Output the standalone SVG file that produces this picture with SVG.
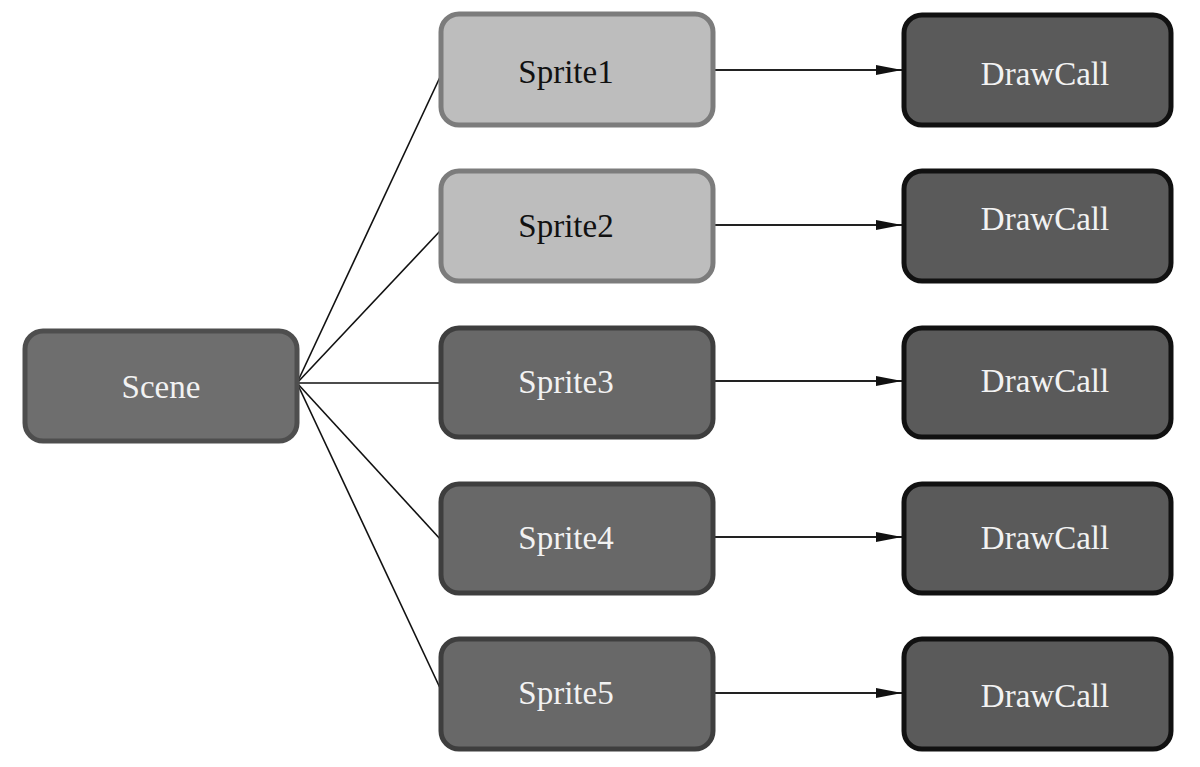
<svg xmlns="http://www.w3.org/2000/svg" width="1200" height="767" viewBox="0 0 1200 767">
<style>
.n rect{stroke-width:5}
.scene rect{fill:#6e6e6e;stroke:#4e4e4e}
.light rect{fill:#bdbdbd;stroke:#7c7c7c}
.dark rect{fill:#686868;stroke:#3e3e3e}
.dc rect{fill:#5a5a5a;stroke:#111}
text{font-family:"Liberation Serif","Times New Roman",serif;font-size:33px;text-anchor:middle}
.light text{fill:#111}
.scene text,.dark text,.dc text{fill:#f2f2f2}
.e line{stroke:#111;stroke-width:1.6}
.a line{stroke:#222;stroke-width:1.8;marker-end:url(#ah)}
</style>
<defs>
<marker id="ah" markerWidth="26" markerHeight="10" refX="26" refY="5" orient="auto" markerUnits="userSpaceOnUse">
<path d="M0,0 L26,5 L0,10 Z" fill="#111"/>
</marker>
</defs>
<rect width="1200" height="767" fill="#fff"/>
<g id="connectors">
<g class="e">
<line x1="297" y1="383" x2="441" y2="75"/>
<line x1="297" y1="383" x2="441" y2="230"/>
<line x1="297" y1="383" x2="441" y2="383"/>
<line x1="297" y1="383" x2="441" y2="540"/>
<line x1="297" y1="383" x2="441" y2="690"/>
</g>
<g class="a">
<line x1="714" y1="70" x2="902" y2="70"/>
<line x1="714" y1="225" x2="902" y2="225"/>
<line x1="714" y1="381" x2="902" y2="381"/>
<line x1="714" y1="537" x2="902" y2="537"/>
<line x1="714" y1="693" x2="902" y2="693"/>
</g>
</g>
<g id="scene" class="n scene"><rect x="25" y="331" width="272" height="110" rx="18"/><text x="161" y="398">Scene</text></g>
<g id="sprite1" class="n light"><rect x="441" y="14" width="272" height="111" rx="18"/><text x="566" y="83">Sprite1</text></g>
<g id="sprite2" class="n light"><rect x="441" y="171" width="272" height="110" rx="18"/><text x="566" y="237">Sprite2</text></g>
<g id="sprite3" class="n dark"><rect x="441" y="328" width="272" height="109" rx="18"/><text x="566" y="393">Sprite3</text></g>
<g id="sprite4" class="n dark"><rect x="441" y="484" width="272" height="109" rx="18"/><text x="566" y="549">Sprite4</text></g>
<g id="sprite5" class="n dark"><rect x="441" y="639" width="272" height="110" rx="18"/><text x="566" y="704">Sprite5</text></g>
<g id="drawcall1" class="n dc"><rect x="904" y="15" width="267" height="110" rx="18"/><text x="1045" y="85">DrawCall</text></g>
<g id="drawcall2" class="n dc"><rect x="904" y="171" width="267" height="110" rx="18"/><text x="1045" y="230">DrawCall</text></g>
<g id="drawcall3" class="n dc"><rect x="904" y="328" width="267" height="109" rx="18"/><text x="1045" y="392">DrawCall</text></g>
<g id="drawcall4" class="n dc"><rect x="904" y="484" width="267" height="109" rx="18"/><text x="1045" y="549">DrawCall</text></g>
<g id="drawcall5" class="n dc"><rect x="904" y="639" width="267" height="110" rx="18"/><text x="1045" y="707">DrawCall</text></g>
</svg>
